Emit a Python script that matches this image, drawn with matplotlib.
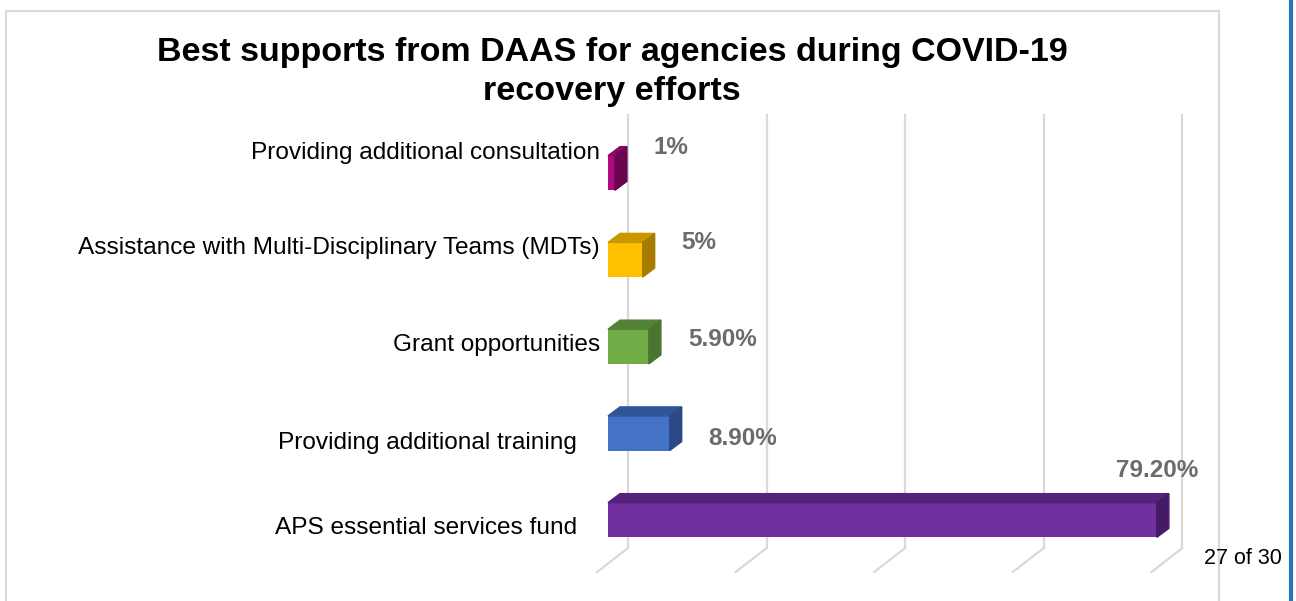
import matplotlib.pyplot as plt
from matplotlib.patches import Polygon, Rectangle
from matplotlib.lines import Line2D

plt.rcParams['font.family'] = ['Liberation Sans', 'DejaVu Sans']

# data (bottom to top)
categories = ['APS essential services fund',
              'Providing additional training',
              'Grant opportunities',
              'Assistance with Multi-Disciplinary Teams (MDTs)',
              'Providing additional consultation']
values = [79.2, 8.9, 5.9, 5.0, 1.0]
value_labels = ['79.20%', '8.90%', '5.90%', '5%', '1%']
grid_ticks = [0, 20, 40, 60, 80]

front_colors = ['#7030a0', '#4472c4', '#70ad47', '#ffc000', '#b0087f']
top_colors = ['#552279', '#2f5597', '#548235', '#c99700', '#8a0763']
side_colors = ['#461b66', '#2b4a85', '#4a7430', '#a67c00', '#6a0550']

# pixel -> data scale helpers (fake 3D look)
PX_X = 1 / 6.93     # % per pixel
PX_Y = 1 / 86.75    # category units per pixel
bar_h = 0.40
dep_x, dep_y = 12 * PX_X, 9 * PX_Y

fig = plt.figure(figsize=(12.96, 6.01), dpi=100)
ax = fig.add_axes([560 / 1296, 1 - 600 / 601, 670 / 1296, 500 / 601])
ax.set_xlim((560 - 608) * PX_X, (1230 - 608) * PX_X)
ax.set_ylim(-80 * PX_Y, 4 + 73 * PX_Y)
ax.axis('off')

# back wall gridlines + floor lines
y_floor, y_top = -28 * PX_Y, 4 + 58 * PX_Y
for t in grid_ticks:
    xb = t + 20 * PX_X
    ax.add_line(Line2D([xb, xb], [y_floor, y_top], color='#d9d9d9', lw=1.6, zorder=1))
    ax.add_line(Line2D([xb, t - 11 * PX_X], [y_floor, -52 * PX_Y], color='#d9d9d9', lw=1.6, zorder=1))

# bars
ys = list(range(len(values)))
ax.barh(ys, values, height=bar_h, left=0, color=front_colors, zorder=3)
for y, v, ct, cs in zip(ys, values, top_colors, side_colors):
    top = y + bar_h / 2
    bot = y - bar_h / 2
    ax.add_patch(Polygon([(0, top), (v, top), (v + dep_x, top + dep_y), (dep_x, top + dep_y)],
                         closed=True, color=ct, zorder=3))
    ax.add_patch(Polygon([(v, bot), (v, top), (v + dep_x, top + dep_y), (v + dep_x, bot + dep_y)],
                         closed=True, color=cs, zorder=3))

# category labels (perspective shifts, in pixels)
cat_dx = [-31, -31, -8, -8, -8]
cat_dy = [8, 10, -1, -12, -20]
for y, name, dx, dy in zip(ys, categories, cat_dx, cat_dy):
    ax.text(dx * PX_X, y - dy * PX_Y, name, ha='right', va='center',
            fontsize=17.6, color='black', clip_on=False)

# value labels
val_dy = [0, 5, -7, -17, -25]
for y, v, lab, dy in zip(ys, values, value_labels, val_dy):
    if v > 60:
        ax.text(v, y + bar_h / 2 + 32 * PX_Y, lab, ha='center', va='center',
                fontsize=17.5, fontweight='bold', color='#6b6b6b')
    else:
        ax.text(v + 39 * PX_X, y - dy * PX_Y, lab, ha='left', va='center',
                fontsize=17.5, fontweight='bold', color='#6b6b6b')

fig.text(612 / 1296, 1 - 72 / 601,
         'Best supports from DAAS for agencies during COVID-19\nrecovery efforts',
         ha='center', va='center', fontsize=24.5, fontweight='bold', linespacing=1.32)

# chart frame, page number and side rule
fig.add_artist(Rectangle((6 / 1296, -0.05), 1213 / 1296, 1.05 - 11 / 601, transform=fig.transFigure,
                         fill=False, edgecolor='#d9d9d9', lw=1.5))
fig.text(1243 / 1296, 1 - 558 / 601, '27 of 30', ha='center', va='center', fontsize=15.5)
fig.add_artist(Line2D([1290.5 / 1296, 1290.5 / 1296], [0, 1], transform=fig.transFigure,
                      color='#2e75b6', lw=3))

fig.savefig('out.png', dpi=100)
